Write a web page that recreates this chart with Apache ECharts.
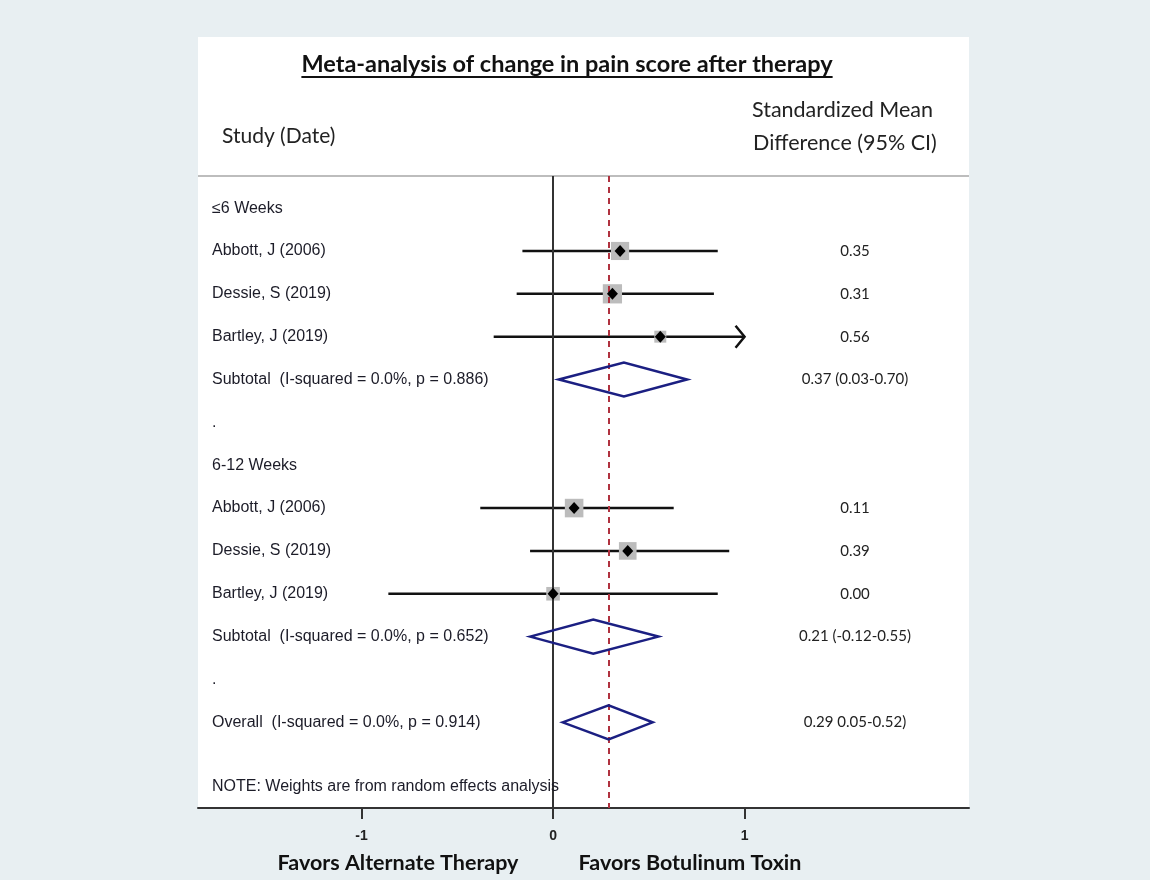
<!DOCTYPE html>
<html>
<head>
<meta charset="utf-8">
<script src="https://cdn.jsdelivr.net/npm/echarts@6/dist/echarts.min.js"></script>
<style>
  html, body { margin: 0; padding: 0; background: #e8eff2; }
  #main { width: 1150px; height: 880px; }
</style>
</head>
<body>
<div id="main"></div>
<script>
// row labels (row index = vertical slot in the plot)
var labelRows = [0, 1, 2, 3, 4, 5, 6, 7, 8, 9, 10, 11, 12];
var labelTexts = ['≤6 Weeks', 'Abbott, J (2006)', 'Dessie, S (2019)', 'Bartley, J (2019)',
  'Subtotal  (I-squared = 0.0%, p = 0.886)', '.', '6-12 Weeks', 'Abbott, J (2006)',
  'Dessie, S (2019)', 'Bartley, J (2019)', 'Subtotal  (I-squared = 0.0%, p = 0.652)', '.',
  'Overall  (I-squared = 0.0%, p = 0.914)'];
var noteRow = 13.5;
var noteText = 'NOTE: Weights are from random effects analysis';

// individual studies
var studyRows = [1, 2, 3, 7, 8, 9];
var studyEst = [0.35, 0.31, 0.56, 0.11, 0.39, 0.00];
var studyLow = [-0.16, -0.19, -0.31, -0.38, -0.12, -0.86];
var studyHigh = [0.86, 0.84, 1.43, 0.63, 0.92, 0.86];
var studyWeight = [39, 44, 17, 41, 37, 22];

// pooled estimates
var pooledRows = [4, 10, 12];
var pooledEst = [0.37, 0.21, 0.29];
var pooledLow = [0.03, -0.12, 0.05];
var pooledHigh = [0.70, 0.55, 0.52];

// right-hand column
var valueRows = [1, 2, 3, 4, 7, 8, 9, 10, 12];
var valueTexts = ['0.35', '0.31', '0.56', '0.37 (0.03-0.70)', '0.11', '0.39', '0.00',
  '0.21 (-0.12-0.55)', '0.29 0.05-0.52)'];

var tickValues = [-1, 0, 1];
var ciClip = 1.0;   // CIs beyond this are drawn with an arrow

var chart = echarts.init(document.getElementById('main'));

var armFont = '"Liberation Sans", Arial, sans-serif';
var calFont = 'Lato, "Open Sans", sans-serif';
var title = 'Meta-analysis of change in pain score after therapy';
var titleSize = 23.5;

// measure title to place the underline
var cv = document.createElement('canvas').getContext('2d');
cv.font = 'bold ' + titleSize + 'px ' + calFont;
var titleW = cv.measureText(title).width;
var titleCx = 567;

var option = {
  backgroundColor: '#e8eff2',
  animation: false,
  grid: { left: 198, right: 181, top: 176, bottom: 72 },
  xAxis: {
    type: 'value',
    min: -1.854,
    max: 2.172,
    axisLine: { show: true, onZero: false, lineStyle: { color: '#333', width: 2 } },
    axisTick: { show: true, customValues: tickValues, length: 11, lineStyle: { color: '#333', width: 2 } },
    axisLabel: {
      customValues: tickValues, margin: 21,
      fontFamily: armFont, fontWeight: 'bold', fontSize: 14, color: '#222'
    },
    splitLine: { show: false }
  },
  yAxis: {
    type: 'value', min: -0.75, max: 14, inverse: true, show: false
  },
  graphic: [
    { type: 'rect', z: -10, shape: { x: 198, y: 37, width: 771, height: 771 }, style: { fill: '#fff' } },
    { type: 'line', z: 1, shape: { x1: 198, y1: 176, x2: 969, y2: 176 }, style: { stroke: '#bdbdbd', lineWidth: 2 } },
    { type: 'text', x: titleCx, y: 64, style: { text: title, font: 'bold ' + titleSize + 'px ' + calFont, fill: '#111', align: 'center', verticalAlign: 'middle' } },
    { type: 'line', shape: { x1: titleCx - titleW / 2, y1: 77, x2: titleCx + titleW / 2, y2: 77 }, style: { stroke: '#111', lineWidth: 2 } },
    { type: 'text', x: 222, y: 136, style: { text: 'Study (Date)', font: '21px ' + calFont, fill: '#222', align: 'left', verticalAlign: 'middle' } },
    { type: 'text', x: 752, y: 110, style: { text: 'Standardized Mean', font: '21.5px ' + calFont, fill: '#222', align: 'left', verticalAlign: 'middle' } },
    { type: 'text', x: 753, y: 143, style: { text: 'Difference (95% CI)', font: '21.5px ' + calFont, fill: '#222', align: 'left', verticalAlign: 'middle' } },
    { type: 'text', x: 398, y: 863, style: { text: 'Favors Alternate Therapy', font: 'bold 21.5px ' + calFont, fill: '#111', align: 'center', verticalAlign: 'middle' } },
    { type: 'text', x: 690, y: 863, style: { text: 'Favors Botulinum Toxin', font: 'bold 21.5px ' + calFont, fill: '#111', align: 'center', verticalAlign: 'middle' } }
  ],
  series: [
    {
      // reference lines
      type: 'scatter', data: [], z: 1,
      markLine: {
        silent: true, symbol: 'none', label: { show: false },
        data: [
          { xAxis: 0, lineStyle: { color: '#333', width: 2, type: 'solid' } },
          { xAxis: pooledEst[2], lineStyle: { color: '#b0323f', width: 2, type: [6, 5] } }
        ]
      }
    },
    {
      // confidence intervals
      type: 'custom', z: 3,
      encode: { x: [1, 2], y: 0 },
      data: studyRows.map(function (r, i) { return [r, studyLow[i], studyHigh[i]]; }),
      renderItem: function (params, api) {
        var row = api.value(0), lo = api.value(1), hi = api.value(2);
        var p1 = api.coord([lo, row]);
        var p2 = api.coord([Math.min(hi, ciClip), row]);
        var kids = [{ type: 'line', shape: { x1: p1[0], y1: p1[1], x2: p2[0], y2: p2[1] }, style: { stroke: '#111', lineWidth: 2.5 } }];
        if (hi > ciClip) {
          kids.push({ type: 'polyline', shape: { points: [[p2[0] - 9, p2[1] - 11], [p2[0], p2[1]], [p2[0] - 9, p2[1] + 11]] }, style: { stroke: '#111', lineWidth: 2.5, fill: null } });
        }
        return { type: 'group', children: kids };
      }
    },
    {
      // weight boxes
      type: 'scatter', z: 4, symbol: 'rect',
      data: studyRows.map(function (r, i) { return { value: [studyEst[i], r], symbolSize: 2.9 * Math.sqrt(studyWeight[i]) }; }),
      itemStyle: { color: '#bcbcbc', opacity: 1 }
    },
    {
      // point estimates
      type: 'scatter', z: 5, symbol: 'diamond', symbolSize: [11, 12],
      data: studyRows.map(function (r, i) { return [studyEst[i], r]; }),
      itemStyle: { color: '#000', opacity: 1 }
    },
    {
      // pooled diamonds
      type: 'custom', z: 5,
      encode: { x: [1, 2, 3], y: 0 },
      data: pooledRows.map(function (r, i) { return [r, pooledLow[i], pooledEst[i], pooledHigh[i]]; }),
      renderItem: function (params, api) {
        var row = api.value(0);
        var a = api.coord([api.value(1), row]);
        var b = api.coord([api.value(2), row]);
        var c = api.coord([api.value(3), row]);
        var h = 17;
        return {
          type: 'polygon',
          shape: { points: [[a[0], a[1]], [b[0], b[1] - h], [c[0], c[1]], [b[0], b[1] + h]] },
          style: { stroke: '#1b1f82', lineWidth: 2.5, fill: null }
        };
      }
    },
    {
      // study labels
      type: 'custom', z: 6,
      encode: { y: 1 },
      data: labelRows.map(function (r) { return [0, r]; }).concat([[0, noteRow]]),
      renderItem: function (params, api) {
        var y = api.coord([0, api.value(1)])[1];
        var t = params.dataIndex < labelTexts.length ? labelTexts[params.dataIndex] : noteText;
        return { type: 'text', x: params.coordSys.x + 14, y: y, style: { text: t, font: '16px ' + armFont, fill: '#1c1c28', align: 'left', verticalAlign: 'middle' } };
      }
    },
    {
      // effect size column
      type: 'custom', z: 6,
      encode: { y: 1 },
      data: valueRows.map(function (r) { return [0, r]; }),
      renderItem: function (params, api) {
        var y = api.coord([0, api.value(1)])[1];
        return { type: 'text', x: params.coordSys.x + params.coordSys.width - 114, y: y, style: { text: valueTexts[params.dataIndex], font: '15px ' + calFont, fill: '#222', align: 'center', verticalAlign: 'middle' } };
      }
    }
  ]
};
chart.setOption(option);
</script>
</body>
</html>
